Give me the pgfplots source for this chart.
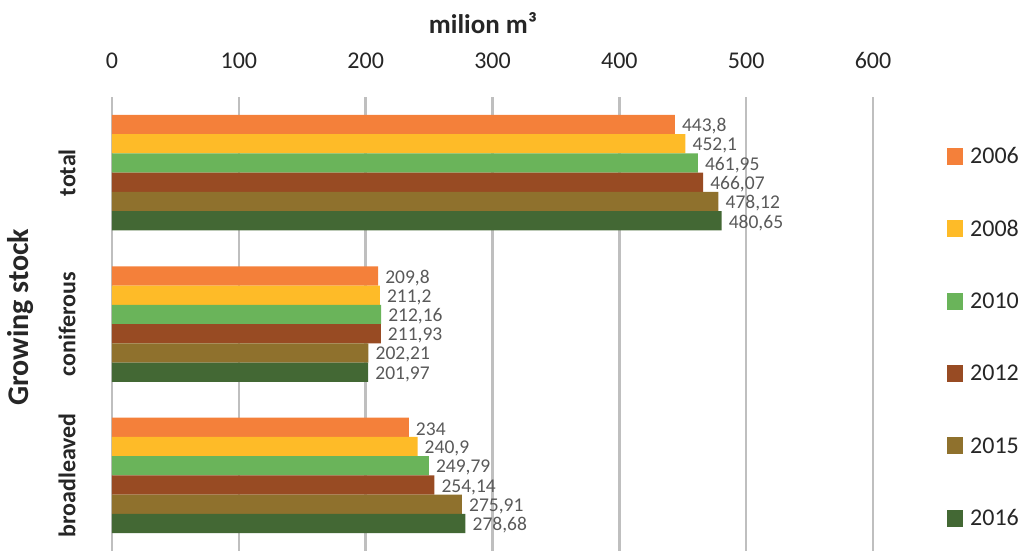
\documentclass[border=0pt]{standalone}
\usepackage{pgfplots}
\pgfplotsset{compat=1.18}
\usepackage{pgfplotstable}
\usepackage{fontspec}
\setmainfont{Carlito}

\definecolor{c2006}{RGB}{244,128,58}
\definecolor{c2008}{RGB}{254,187,40}
\definecolor{c2010}{RGB}{106,180,90}
\definecolor{c2012}{RGB}{152,75,35}
\definecolor{c2015}{RGB}{143,113,45}
\definecolor{c2016}{RGB}{67,104,52}
\definecolor{gridgray}{RGB}{191,191,191}
\definecolor{labelgray}{RGB}{89,89,89}
\definecolor{textdark}{RGB}{38,38,38}

% growing stock (milion m3): 0 = total, 1 = coniferous, 2 = broadleaved
\pgfplotstableread{
cat v06    l06    v08    l08    v10    l10    v12    l12    v15    l15    v16    l16
0   443.8  443,8  452.1  452,1  461.95 461,95 466.07 466,07 478.12 478,12 480.65 480,65
1   209.8  209,8  211.2  211,2  212.16 212,16 211.93 211,93 202.21 202,21 201.97 201,97
2   234    234    240.9  240,9  249.79 249,79 254.14 254,14 275.91 275,91 278.68 278,68
}\stock

\begin{document}
\begin{tikzpicture}
\begin{axis}[
  scale only axis,
  width=761pt, height=454pt,
  xbar=0pt, bar width=19.25pt,
  xmin=0, xmax=600,
  ymin=-0.5, ymax=2.5, y dir=reverse,
  axis x line*=top, axis y line*=left,
  axis line style={draw=none},
  major tick style={draw=none},
  xtick={0,100,...,600},
  ytick={0,1,2},
  yticklabels={total,coniferous,broadleaved},
  xmajorgrids,
  grid style={line width=2.5pt, color=gridgray},
  /pgf/number format/assume math mode=true,
  xticklabel style={font=\fontsize{24}{28}\selectfont, color=textdark, anchor=base, inner sep=0pt, yshift=29pt},
  yticklabel style={xshift=-32pt, rotate=90, font=\bfseries\fontsize{24}{28}\selectfont, color=textdark, anchor=south, inner sep=0pt},
  xlabel={milion m³},
  xlabel style={font=\bfseries\fontsize{27}{32}\selectfont, color=textdark, at={(axis description cs:0.4875,1)}, anchor=base, inner sep=0pt, yshift=64pt},
  ylabel={Growing stock},
  ylabel style={font=\bfseries\fontsize{30}{36}\selectfont, color=textdark, at={(axis description cs:-0.1196,0.515)}, anchor=center, inner sep=0pt},
  nodes near coords,
  point meta=explicit symbolic,
  every node near coord/.append style={font=\fontsize{19.5}{23}\selectfont, color=labelgray, anchor=west, inner sep=0pt, xshift=7pt, yshift=-2pt},
  legend style={draw=none, fill=none, at={(axis description cs:1.0933,0.893)}, anchor=north west,
    font=\fontsize{24}{28}\selectfont, text=textdark, row sep=55.4pt, column sep=7pt,
    nodes={inner sep=0pt, text height=16pt, text depth=1pt}},
  legend cell align=left,
  legend image code/.code={\fill[#1] (0pt,-8.5pt) rectangle (16pt,8.5pt);},
  clip=false,
]
% years from top to bottom within each group
\addplot[fill=c2006, draw=none, bar shift=48.125pt] table[x=v06, y=cat, meta=l06] {\stock};
\addplot[fill=c2008, draw=none, bar shift=28.875pt] table[x=v08, y=cat, meta=l08] {\stock};
\addplot[fill=c2010, draw=none, bar shift=9.625pt] table[x=v10, y=cat, meta=l10] {\stock};
\addplot[fill=c2012, draw=none, bar shift=-9.625pt] table[x=v12, y=cat, meta=l12] {\stock};
\addplot[fill=c2015, draw=none, bar shift=-28.875pt] table[x=v15, y=cat, meta=l15] {\stock};
\addplot[fill=c2016, draw=none, bar shift=-48.125pt] table[x=v16, y=cat, meta=l16] {\stock};
\legend{2006,2008,2010,2012,2015,2016}
\end{axis}
\pgfresetboundingbox
\path[use as bounding box] (-112pt,0pt) rectangle (907pt,551pt);
\end{tikzpicture}
\end{document}
